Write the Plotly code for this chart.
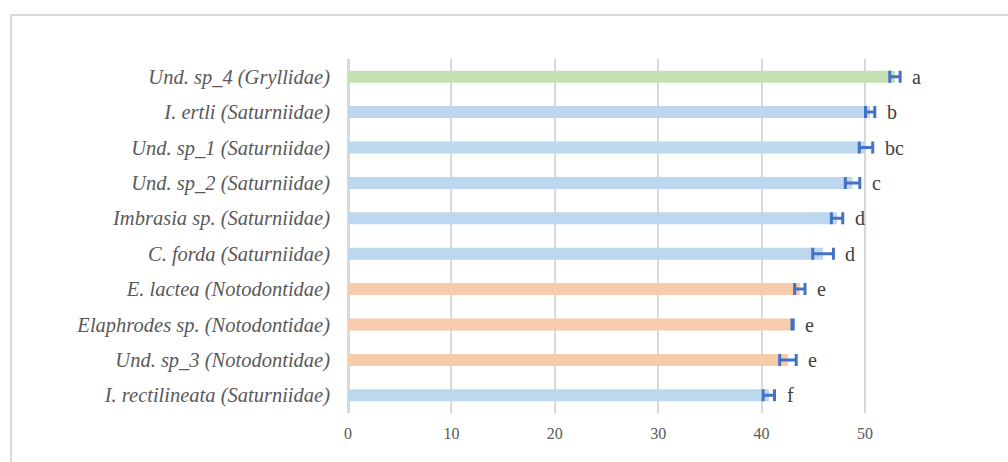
import plotly.graph_objects as go

# Species (top to bottom), family, mean value, error, significance letter
species = [
    "Und. sp_4 (Gryllidae)",
    "I. ertli (Saturniidae)",
    "Und. sp_1 (Saturniidae)",
    "Und. sp_2 (Saturniidae)",
    "Imbrasia sp. (Saturniidae)",
    "C. forda (Saturniidae)",
    "E. lactea (Notodontidae)",
    "Elaphrodes sp. (Notodontidae)",
    "Und. sp_3 (Notodontidae)",
    "I. rectilineata (Saturniidae)",
]
families = ["Gryllidae", "Saturniidae", "Saturniidae", "Saturniidae", "Saturniidae",
            "Saturniidae", "Notodontidae", "Notodontidae", "Notodontidae", "Saturniidae"]
means = [52.9, 50.5, 50.1, 48.8, 47.3, 45.95, 43.7, 43.0, 42.55, 40.7]
errors = [0.5, 0.45, 0.65, 0.7, 0.55, 1.0, 0.5, 0.06, 0.8, 0.55]
letters = ["a", "b", "bc", "c", "d", "d", "e", "e", "e", "f"]
x_ticks = [0, 10, 20, 30, 40, 50]

family_colors = {"Gryllidae": "#C5E0B4", "Saturniidae": "#BDD7EE", "Notodontidae": "#F8CBAD"}

SERIF = "Liberation Serif"

labels = [f"<i>{s}</i>" for s in species]

fig = go.Figure()
fig.add_trace(go.Bar(
    y=labels,
    x=means,
    orientation="h",
    marker=dict(color=[family_colors[f] for f in families], line=dict(width=0)),
    error_x=dict(type="data", array=errors, visible=True,
                 color="#4472C4", thickness=3, width=6),
    hoverinfo="x+y",
))

for lab, m, e, let in zip(labels, means, errors, letters):
    fig.add_annotation(
        x=m + e, y=lab, xref="x", yref="y",
        text=let, showarrow=False, xanchor="left", xshift=10,
        font=dict(family=SERIF, size=20, color="#404040"),
    )

# outer chart frame
L, R, T, B = 348, 81, 59, 49
W, H = 1008, 462
pw, ph = W - L - R, H - T - B
fig.add_shape(
    type="rect", xref="paper", yref="paper",
    x0=(11 - L) / pw, x1=(1020 - L) / pw,
    y0=(H - B - 480) / ph, y1=(H - B - 15) / ph,
    line=dict(color="#d9d9d9", width=2), fillcolor="rgba(0,0,0,0)", layer="below",
)

fig.update_layout(
    width=W, height=H,
    margin=dict(l=L, r=R, t=T, b=B),
    paper_bgcolor="white", plot_bgcolor="white",
    showlegend=False,
    bargap=0.66,
    font=dict(family=SERIF, color="#595959"),
    xaxis=dict(
        range=[0, 56], tickvals=x_ticks, ticktext=[str(v) for v in x_ticks],
        showgrid=True, gridcolor="#d9d9d9", gridwidth=2,
        zeroline=True, zerolinecolor="#d9d9d9", zerolinewidth=2.5,
        showline=False, ticks="", tickfont=dict(family=SERIF, size=16, color="#595959"),
        ticklabelstandoff=9,
        fixedrange=True,
    ),
    yaxis=dict(
        autorange="reversed", showgrid=False, zeroline=False, showline=False,
        ticks="", tickfont=dict(family=SERIF, size=20.5, color="#595959"), ticklabelstandoff=17,
        fixedrange=True,
    ),
)

fig.write_html("out.html")
